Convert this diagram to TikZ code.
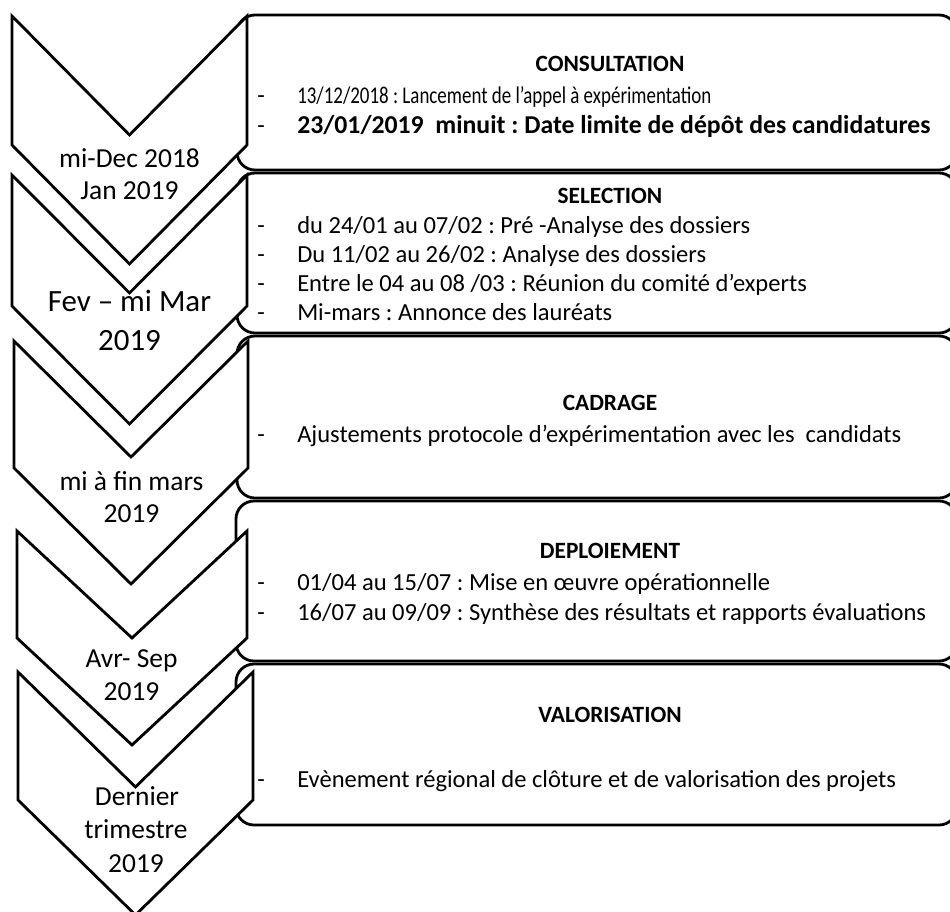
\documentclass[tikz,border=0pt]{standalone}
\usepackage{fontspec}
\setmainfont{Carlito}
\usepackage{tikz}
\frenchspacing

\begin{document}
\begin{tikzpicture}[x=0.75pt,y=0.75pt,yscale=-1,xscale=1,
  chev/.style={draw, line width=2.1pt, fill=white},
  panel/.style={draw, line width=2.1pt, fill=white, rounded corners=13.5pt},
  when/.style={anchor=base, inner sep=0.75pt, font=\fontsize{20.6}{24.7}\selectfont},
  whenbig/.style={anchor=base, inner sep=0.75pt, font=\fontsize{23.2}{28}\selectfont},
  phase/.style={anchor=base, inner sep=0.75pt, font=\bfseries\fontsize{17.5}{21}\selectfont},
  item/.style={anchor=base west, inner sep=0.75pt, font=\fontsize{18.4}{22}\selectfont}]
%set diagram to 950 x 911
\useasboundingbox (0,0) rectangle (950,911);
\clip (0,0) rectangle (950,911);

%Rounded Rect [CONSULTATION]
\draw [panel] (237,15) rectangle (957,170);
%Rounded Rect [SELECTION]
\draw [panel] (237,173) rectangle (957,333);
%Rounded Rect [CADRAGE]
\draw [panel] (237,336) rectangle (957,498);
%Rounded Rect [DEPLOIEMENT]
\draw [panel] (236,501) rectangle (957,661);
%Rounded Rect [VALORISATION]
\draw [panel] (236,664) rectangle (957,825);

%Shape: Chevron
\draw [chev] (12,16) -- (129.5,135) -- (247,16) -- (247,145) -- (129.5,264) -- (12,145) -- cycle ;
%Shape: Chevron
\draw [chev] (12,175) -- (129.5,293) -- (247,175) -- (247,306) -- (129.5,424) -- (12,306) -- cycle ;
%Shape: Chevron
\draw [chev] (14,341) -- (131,457) -- (248,341) -- (248,468) -- (131,584) -- (14,468) -- cycle ;
%Shape: Chevron
\draw [chev] (17,531) -- (132,638) -- (247,531) -- (247,638) -- (132,745) -- (17,638) -- cycle ;
%Shape: Chevron
\draw [chev] (18,672) -- (135.5,787) -- (253,672) -- (253,800) -- (135.5,915) -- (18,800) -- cycle ;

% Text Node
\draw (129.5,167) node [when] (w1a) {mi-Dec 2018};
\draw (129.5,199) node [when] (w1b) {Jan 2019};
% Text Node
\draw (129.5,311) node [whenbig] (w2a) {Fev – mi Mar};
\draw (129.5,350) node [whenbig] (w2b) {2019};
% Text Node
\draw (131.5,490) node [when] (w3a) {mi à fin mars};
\draw (131.5,522) node [when] (w3b) {2019};
% Text Node
\draw (131.5,667) node [when] (w4a) {Avr- Sep};
\draw (131.5,700) node [when] (w4b) {2019};
% Text Node
\draw (137,805) node [when] (w5a) {Dernier};
\draw (136,838) node [when] (w5b) {trimestre};
\draw (136,872) node [when] (w5c) {2019};

% Text Node
\draw (610,71) node [phase] (p1) {CONSULTATION};
\draw (256,103) node [item] (p1a) {\makebox[30pt][l]{-}\scalebox{0.79}[1]{\fontsize{18}{22}\selectfont 13/12/2018 : Lancement de l’appel à expérimentation}};
\draw (256,133) node [item] (p1b) {\makebox[30pt][l]{-}\textbf{\fontsize{19.3}{23}\selectfont 23/01/2019\ \ minuit : Date limite de dépôt des candidatures}};
% Text Node
\draw (610,203) node [phase] (p2) {SELECTION};
\draw (256,233) node [item] (p2a) {\makebox[30pt][l]{-}du 24/01 au 07/02 : Pré -Analyse des dossiers};
\draw (256,262) node [item] (p2b) {\makebox[30pt][l]{-}Du 11/02 au 26/02 : Analyse des dossiers};
\draw (256,291) node [item] (p2c) {\makebox[30pt][l]{-}Entre le 04 au 08 /03 : Réunion du comité d’experts};
\draw (256,320) node [item] (p2d) {\makebox[30pt][l]{-}Mi-mars : Annonce des lauréats};
% Text Node
\draw (610,410) node [phase] (p3) {CADRAGE};
\draw (256,442) node [item] (p3a) {\makebox[30pt][l]{-}Ajustements protocole d’expérimentation avec les\ \ candidats};
% Text Node
\draw (610,558) node [phase] (p4) {DEPLOIEMENT};
\draw (256,590) node [item] (p4a) {\makebox[30pt][l]{-}01/04 au 15/07 : Mise en œuvre opérationnelle};
\draw (256,620) node [item] (p4b) {\makebox[30pt][l]{-}16/07 au 09/09 : Synthèse des résultats et rapports évaluations};
% Text Node
\draw (610,722) node [phase] (p5) {VALORISATION};
\draw (256,787) node [item] (p5a) {\makebox[30pt][l]{-}Evènement régional de clôture et de valorisation des projets};

\end{tikzpicture}
\end{document}
